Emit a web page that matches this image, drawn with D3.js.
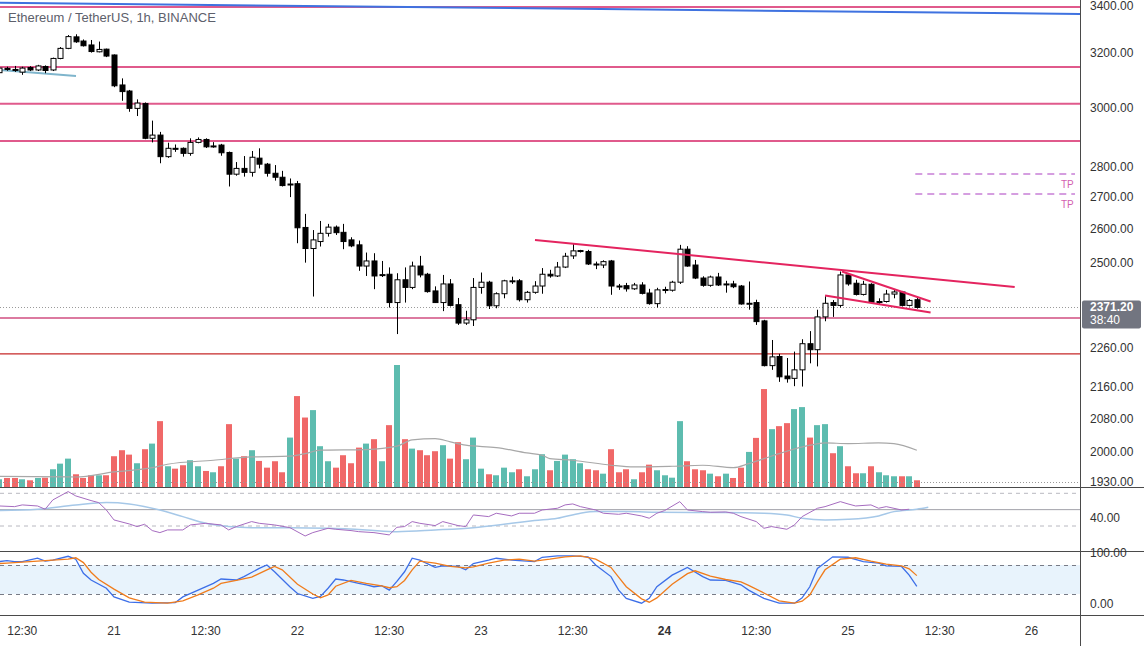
<!DOCTYPE html>
<html><head><meta charset="utf-8">
<script src="https://cdn.jsdelivr.net/npm/d3@7"></script>
<style>body{margin:0;background:#fff}svg{display:block}text{font-family:"Liberation Sans",Arial,sans-serif}</style>
</head><body><svg id="c" width="1144" height="646"></svg>
<script>
// ---------- DATA ----------
const title = "Ethereum / TetherUS, 1h, BINANCE";
const opens  = [3128,3144,3140,3130,3147,3138,3151,3138,3181,3219,3263,3247,3232,3206,3216,3194,3083,3061,2999,3016,2895,2906,2833,2861,2861,2844,2881,2891,2868,2872,2847,2775,2794,2781,2828,2808,2778,2765,2740,2744,2606,2542,2563,2588,2607,2591,2568,2553,2490,2505,2463,2466,2385,2450,2428,2490,2466,2418,2385,2438,2379,2328,2337,2428,2443,2376,2410,2445,2447,2393,2414,2432,2466,2461,2487,2520,2535,2533,2496,2493,2505,2432,2433,2424,2435,2412,2382,2421,2420,2443,2540,2493,2455,2434,2458,2437,2438,2432,2381,2385,2334,2214,2238,2187,2181,2203,2272,2256,2345,2385,2377,2464,2440,2408,2437,2387,2388,2409,2415,2377,2393];
const highs  = [3153,3150,3153,3150,3152,3157,3155,3184,3224,3270,3273,3253,3251,3245,3218,3196,3107,3065,3031,3020,2956,2917,2880,2874,2864,2895,2898,2895,2882,2876,2850,2815,2835,2852,2861,2812,2805,2786,2761,2753,2648,2598,2626,2617,2612,2617,2576,2566,2530,2528,2505,2486,2469,2486,2503,2520,2470,2431,2464,2452,2398,2362,2455,2471,2447,2414,2450,2459,2452,2418,2446,2484,2479,2502,2529,2556,2538,2538,2503,2507,2508,2438,2441,2441,2443,2424,2427,2430,2447,2553,2549,2508,2460,2462,2470,2447,2447,2435,2445,2393,2337,2282,2245,2234,2251,2284,2306,2365,2403,2392,2474,2469,2450,2447,2440,2397,2421,2423,2418,2395,2398];
const lows   = [3120,3135,3131,3120,3134,3134,3126,3134,3178,3216,3240,3226,3203,3204,3186,3075,3026,2987,2972,2892,2881,2811,2829,2849,2833,2836,2878,2862,2863,2836,2735,2770,2767,2767,2794,2767,2754,2735,2701,2558,2500,2402,2548,2578,2583,2540,2546,2476,2461,2423,2458,2371,2298,2385,2423,2457,2413,2384,2361,2374,2323,2323,2320,2410,2367,2369,2397,2438,2388,2385,2410,2410,2456,2458,2484,2511,2530,2493,2481,2484,2407,2421,2416,2421,2408,2379,2371,2411,2416,2438,2488,2452,2430,2430,2432,2413,2426,2379,2365,2323,2212,2203,2172,2170,2161,2160,2220,2212,2333,2345,2371,2433,2405,2405,2383,2379,2385,2397,2374,2374,2368];
const closes = [3145,3140,3139,3145,3138,3153,3136,3181,3219,3264,3244,3229,3207,3215,3190,3080,3059,2999,3018,2895,2906,2833,2861,2860,2844,2881,2891,2866,2869,2846,2775,2794,2781,2831,2808,2778,2765,2738,2743,2605,2542,2568,2588,2607,2590,2563,2550,2490,2505,2461,2465,2385,2450,2428,2490,2464,2416,2385,2438,2377,2328,2337,2428,2443,2376,2410,2447,2447,2393,2414,2432,2466,2461,2487,2519,2535,2536,2496,2495,2503,2432,2431,2424,2435,2411,2382,2421,2422,2443,2540,2490,2455,2434,2458,2435,2438,2430,2381,2383,2332,2214,2237,2185,2180,2203,2272,2256,2345,2383,2377,2464,2438,2408,2437,2386,2388,2409,2415,2377,2391,2371.2];
const volumes = [7.7,9,9,7.7,6.7,9,9.3,17.7,23.3,28.3,12.7,9,11.7,11.7,11.7,30.7,36.7,32.3,23.7,37.7,43.3,65.7,20.7,18.3,21.7,26.7,20.7,16,14.7,20.7,62.7,28.3,30.7,36.7,26,19.3,25.7,14.7,49.3,90.7,69.3,76.7,40.7,25.7,19.3,31.7,23.7,39.3,43.3,47.7,25.7,61.7,121.7,47.7,38.3,36.7,31.7,35.7,41.7,28.3,44.7,27.7,49.3,18.3,12.7,11.7,19.3,14.7,17.7,10.7,17.7,32.7,16.7,26,32.3,27.7,23.7,17.7,16.7,13.3,37.7,14.7,17.7,7.7,14.7,22.3,16.7,11.7,9.3,65.7,25.7,17.7,16.7,13.3,10.7,13.3,9,19.3,35,49,97.7,57.7,60.7,63.7,77.7,79.7,49.3,61.7,62.7,33.7,40.7,20.7,13.7,13.7,20.7,14.7,11.7,10.7,10.7,10.7,6.7];
const volMABars = [0,10,15,20,22,28,33,38,40,42,48,52,54,57,59,61,65,69,71,72,75,80,83,88,92,96,98,100,102,106,108,111,115,117,120];
const volMAVals = [10.7,10,15,19.3,22.7,26.7,30,30.7,33.3,36.7,37.3,40.7,47,48.3,45,41.7,39.3,34,31.7,28.3,26.7,21.7,20,20.7,21.7,19.3,23.3,28.3,33.3,41.7,44,43.3,44,43.3,36.7];
const rsiBars = [0,2,3,5,6,7,9,10,12,13,14,15,17,18,19,20,21,22,24,25,27,29,30,31,33,34,36,38,40,41,43,44,46,47,49,51,52,53,54,55,57,58,60,61,62,64,65,67,68,70,71,73,74,75,76,78,79,81,82,84,85,86,87,89,90,92,93,95,96,97,99,100,101,103,104,105,107,108,110,111,112,114,115,116,118,119];
const rsiVals = [54.5,53.7,55.8,54.5,50.5,61.9,72.1,66.8,61.1,58.6,49.6,37.4,32.5,29.3,32.1,24.4,21.9,25.2,25.2,31.3,33.3,31.3,25.2,29.3,35.4,33.3,31.3,28,17.8,21.9,27.2,26,24.4,23.1,21.9,19.1,28.4,29.3,35.4,33.3,30.5,35.4,30.5,29.3,43.5,41.5,45.6,42.3,45.6,45.6,49.6,51.7,55.8,57,53.7,49.6,45.6,44.3,45.6,42.3,39.5,45.6,48.8,59.8,49.6,47.6,46.8,47.2,45.6,41.5,35.4,27.2,29.3,26,31.3,41.5,51.7,53.7,59.8,57,54.5,55.8,51.7,53.7,49.6,50.5];
const rsiMABars = [0,5,10,14,17,21,24,27,30,33,38,43,48,52,57,62,67,70,73,76,78,82,86,91,95,100,103,105,108,111,115,117,120,121.5];
const rsiMAVals = [48.8,50.5,55.8,58.6,57,49.6,41.5,33.3,29.3,28,28,27.2,25.2,23.1,25.2,28,33.3,36.6,39.4,45.6,47.6,47.6,46.8,46.4,46.4,45.6,43.5,39.4,37.4,38.2,42.3,47.6,50.5,52.9];
const kBars = [0,1,2,3,5,6,7,9,10,11,12,14,15,17,20,23,24,26,28,29,31,32,34,35,36,38,39,41,42,43,44,45,47,48,49,50,51,52,53,54,55,57,58,60,61,62,64,65,67,68,70,71,73,74,75,77,78,80,81,82,84,85,86,88,90,92,93,95,97,98,100,102,104,105,106,107,109,111,113,115,116,118,119,120];
const kVals = [87,89,87,87,94,88,90,98,92,63,49,32,14,3,1,2,14,28,42,51,49,56,73,80,66,35,21,11,15,32,51,49,42,39,35,37,28,46,66,94,90,75,78,77,70,83,90,94,90,89,87,96,99,99,99,97,80,56,28,11,1,11,35,59,75,56,49,48,39,28,11,1,1,12,35,73,97,96,87,84,78,77,59,36];
const dBars = [0,1,3,5,7,9,10,11,12,13,15,17,19,22,24,26,28,29,31,33,35,36,37,39,41,42,43,44,46,48,50,51,52,53,54,55,57,59,61,62,64,66,68,70,72,74,76,78,80,81,82,84,85,86,88,90,91,93,95,97,98,100,102,104,105,106,107,108,110,112,114,116,118,119,120];
const dVals = [83,84,86,88,90,92,95,85,65,50,30,12,3,1,6,18,32,42,48,55,70,77,70,40,20,12,18,36,48,42,37,33,35,48,70,88,84,77,74,76,84,90,92,88,92,97,99,92,75,55,35,10,3,12,40,62,68,57,50,45,38,22,6,1,5,18,45,70,92,95,88,82,78,72,58];
const priceTicks = [3400,3200,3000,2800,2700,2600,2500,2260,2160,2080,2000,1930];
const timeTickBars = [3,15,27,39,51,63,75,87,99,111,123,135];
const timeTickLabels = ["12:30","21","12:30","22","12:30","23","12:30","24","12:30","25","12:30","26"];
const hLevels = [3380,3149,3015,2886,2342,2245];
const hColors = ["#e05a8c","#e05a8c","#e05a8c","#e05a8c","#dc7aa0","#c62828"];
const trendA = [[70.06,2568],[132.8,2429]];
const trendB = [[110.2,2474],[121.8,2388]];
const trendC = [[108,2405],[121.8,2357]];
const blueTop = [[-1,3397],[142,3352]];
const blueLeft = [[0.09,3138],[10.03,3116]];
const tpLevels = [2776,2711];
const lastPrice = 2371.2, countdown = "38:40";

// ---------- LAYOUT ----------
const svg = d3.select("#c");
const plotR = 1080;
const x = d3.scaleLinear().domain([0,120]).range([-0.7, -0.7+7.646*120]);
const y = d3.scaleLog().domain([1930,3400]).range([482,2]);
const yv = d3.scaleLinear().domain([0,121.7]).range([487,365]);
const yr = d3.scaleLinear().domain([30,70]).range([526,493.3]);
const ys = d3.scaleLinear().domain([20,80]).range([594,565]);

const defs = svg.append("defs");
[["cp",0,0,plotR,487],["cr",0,487,plotR,64],["cs",0,551,plotR,64]].forEach(([id,a,b,w,h])=>{
  defs.append("clipPath").attr("id",id).append("rect").attr("x",a).attr("y",b).attr("width",w).attr("height",h);
});
const gp = svg.append("g").attr("clip-path","url(#cp)");
const gr = svg.append("g").attr("clip-path","url(#cr)");
const gs = svg.append("g").attr("clip-path","url(#cs)");

// volume bars
gp.selectAll("rect.v").data(volumes).join("rect").attr("class","v")
  .attr("x",(d,i)=>Math.round(x(i)-3)).attr("width",6)
  .attr("y",d=>yv(d)).attr("height",d=>yv(0)-yv(d))
  .attr("fill",(d,i)=>closes[i]>=opens[i]?"#5dbcaf":"#f06868");
// volume MA
gp.append("path").datum(volMABars.map((b,i)=>[b,volMAVals[i]]))
  .attr("d",d3.line().x(d=>x(d[0])).y(d=>yv(d[1])).curve(d3.curveMonotoneX))
  .attr("fill","none").attr("stroke","#a8a8a8").attr("stroke-width",1.2);

// dotted lines
gp.append("line").attr("x1",0).attr("x2",plotR).attr("y1",Math.round(y(lastPrice))+0.5).attr("y2",Math.round(y(lastPrice))+0.5)
  .attr("stroke","#9a9a9a").attr("stroke-dasharray","1,2");
gp.append("line").attr("x1",0).attr("x2",plotR).attr("y1",y(1930)+0.5).attr("y2",y(1930)+0.5)
  .attr("stroke","#9a9a9a").attr("stroke-dasharray","1,2");

// horizontal levels
gp.selectAll("line.h").data(hLevels).join("line").attr("class","h")
  .attr("x1",0).attr("x2",plotR).attr("y1",d=>y(d)).attr("y2",d=>y(d))
  .attr("stroke",(d,i)=>hColors[i]).attr("stroke-width",(d,i)=>i===5?1.2:2);

// TP lines
gp.selectAll("line.tp").data(tpLevels).join("line").attr("class","tp")
  .attr("x1",x(119.8)).attr("x2",1075).attr("y1",d=>y(d)).attr("y2",d=>y(d))
  .attr("stroke","#c77fd6").attr("stroke-width",1.5).attr("stroke-dasharray","7,5");
gp.selectAll("text.tp").data(tpLevels).join("text").attr("class","tp")
  .attr("x",1061).attr("y",d=>y(d)+14).text("TP").attr("font-size",10).attr("fill","#d35fb0");

// trendlines
const seg = (g,pts,col,w)=>g.append("line").attr("x1",x(pts[0][0])).attr("y1",y(pts[0][1]))
  .attr("x2",x(pts[1][0])).attr("y2",y(pts[1][1])).attr("stroke",col).attr("stroke-width",w);
seg(gp,blueTop,"#3f72e0",2);
seg(gp,blueLeft,"#7fb5cc",2);

// candles
const cg = gp.append("g");
opens.forEach((o,i)=>{
  const c=closes[i], up=c>=o, xc=Math.round(x(i))+0.5;
  cg.append("line").attr("x1",xc).attr("x2",xc).attr("y1",y(highs[i])).attr("y2",y(lows[i])).attr("stroke","#000").attr("stroke-width",1);
  const top=y(Math.max(o,c)), bot=y(Math.min(o,c));
  cg.append("rect").attr("x",xc-2.5).attr("width",5).attr("y",top).attr("height",Math.max(1,bot-top))
    .attr("fill",up?"#fff":"#000").attr("stroke","#000").attr("stroke-width",1);
});
seg(gp,trendA,"#e4245f",2);
seg(gp,trendB,"#e4245f",2);
seg(gp,trendC,"#e4245f",2);

// title
svg.append("text").attr("x",8).attr("y",22).text(title).attr("font-size",13).attr("fill","#5d606b");

// RSI pane
[70,30].forEach(v=>gr.append("line").attr("x1",0).attr("x2",plotR).attr("y1",yr(v)).attr("y2",yr(v))
  .attr("stroke","#b8b8c0").attr("stroke-dasharray","4,4"));
gr.append("line").attr("x1",0).attr("x2",plotR).attr("y1",yr(50)).attr("y2",yr(50)).attr("stroke","#a0a0a8");
gr.append("path").datum(rsiMABars.map((b,i)=>[b,rsiMAVals[i]]))
  .attr("d",d3.line().x(d=>x(d[0])).y(d=>yr(d[1])).curve(d3.curveMonotoneX))
  .attr("fill","none").attr("stroke","#a6c8e8").attr("stroke-width",1.5);
gr.append("path").datum(rsiBars.map((b,i)=>[b,rsiVals[i]]))
  .attr("d",d3.line().x(d=>x(d[0])).y(d=>yr(d[1])))
  .attr("fill","none").attr("stroke","#a66cc0").attr("stroke-width",1);

// Stoch pane
gs.append("rect").attr("x",0).attr("width",plotR).attr("y",ys(80)).attr("height",ys(20)-ys(80)).attr("fill","#e8f3fc");
[80,20].forEach(v=>gs.append("line").attr("x1",0).attr("x2",plotR).attr("y1",Math.round(ys(v))+0.5).attr("y2",Math.round(ys(v))+0.5)
  .attr("stroke","#787b86").attr("stroke-dasharray","4,4"));
gs.append("path").datum(kBars.map((b,i)=>[b,kVals[i]]))
  .attr("d",d3.line().x(d=>x(d[0])).y(d=>ys(d[1])))
  .attr("fill","none").attr("stroke","#3d6fe8").attr("stroke-width",1.3);
gs.append("path").datum(dBars.map((b,i)=>[b,dVals[i]]))
  .attr("d",d3.line().x(d=>x(d[0])).y(d=>ys(d[1])))
  .attr("fill","none").attr("stroke","#f07c1c").attr("stroke-width",1.3);

// separators & axis line
[487,551,615].forEach(v=>svg.append("line").attr("x1",0).attr("x2",1144).attr("y1",v+0.5).attr("y2",v+0.5).attr("stroke","#4a4a4a"));
svg.append("line").attr("x1",plotR+0.5).attr("x2",plotR+0.5).attr("y1",0).attr("y2",646).attr("stroke","#4a4a4a");

// right axis labels
const fmt = d3.format(".2f");
svg.selectAll("text.pt").data(priceTicks).join("text").attr("class","pt")
  .attr("x",1090).attr("y",d=>Math.max(y(d)+4,10)).text(fmt).attr("font-size",12).attr("fill","#333");
svg.append("text").attr("x",1090).attr("y",yr(40)+4).text(fmt(40)).attr("font-size",12).attr("fill","#333");
svg.append("text").attr("x",1090).attr("y",ys(100)+2).text(fmt(100)).attr("font-size",12).attr("fill","#333");
svg.append("text").attr("x",1090).attr("y",ys(0)+4).text(fmt(0)).attr("font-size",12).attr("fill","#333");

// last price label
const ly = y(lastPrice);
svg.append("rect").attr("x",1082).attr("y",ly-7).attr("width",59).attr("height",28).attr("rx",2).attr("fill","#727580");
svg.append("text").attr("x",1090).attr("y",ly+4).text(fmt(lastPrice)).attr("font-size",12).attr("font-weight","bold").attr("fill","#fff");
svg.append("text").attr("x",1090).attr("y",ly+17).text(countdown).attr("font-size",12).attr("fill","#fff");

// time axis
svg.selectAll("text.tt").data(timeTickBars).join("text").attr("class","tt")
  .attr("x",d=>x(d)).attr("y",635).attr("text-anchor","middle")
  .text((d,i)=>timeTickLabels[i]).attr("font-size",12).attr("fill","#333")
  .attr("font-weight",(d,i)=>timeTickLabels[i]==="24"?"bold":"normal");
</script></body></html>
